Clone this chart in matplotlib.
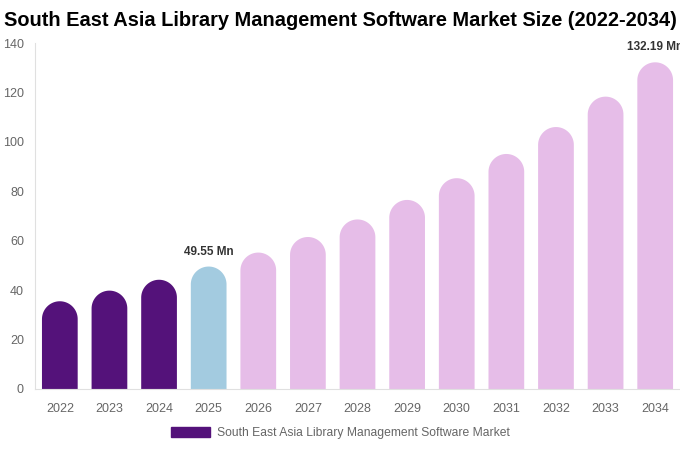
import numpy as np
import matplotlib.pyplot as plt
from matplotlib.patches import Polygon, Patch

plt.rcParams["font.family"] = ["Liberation Sans", "DejaVu Sans"]

# Market size data (USD Mn)
years = ["2022", "2023", "2024", "2025", "2026", "2027", "2028",
         "2029", "2030", "2031", "2032", "2033", "2034"]
values = [35.5, 39.8, 44.2, 49.55, 55.2, 61.5, 68.6,
          76.5, 85.3, 95.1, 106.0, 118.3, 132.19]
labelled = {3: "49.55 Mn", 12: "132.19 Mn"}

dark = "#54127A"
blue = "#A3CBE0"
pink = "#E6BDE8"
colors = [dark] * 3 + [blue] + [pink] * 9

fig = plt.figure(figsize=(6.8, 4.5), dpi=100)
ax = fig.add_axes([0.0515, 0.1356, 0.9485, 0.7688])

x = np.arange(len(years))
width = 0.72
ax.set_xlim(-0.5, len(years) - 0.5)
ax.set_ylim(0, 140)

# radius of the rounded cap in data units (half bar width in pixels)
fig.canvas.draw()
px_per_x = ax.transData.transform((1, 0))[0] - ax.transData.transform((0, 0))[0]
px_per_y = ax.transData.transform((0, 1))[1] - ax.transData.transform((0, 0))[1]
r_y = (width * px_per_x / 2) / px_per_y

theta = np.linspace(0, np.pi, 60)
for xi, v, c in zip(x, values, colors):
    top = v - r_y
    xs = np.concatenate([[xi + width / 2], xi + width / 2 * np.cos(theta), [xi - width / 2]])
    ys = np.concatenate([[0], top + r_y * np.sin(theta), [0]])
    ax.add_patch(Polygon(np.column_stack([xs, ys]), closed=True,
                         facecolor=c, edgecolor="none"))

for i, txt in labelled.items():
    ax.text(x[i], values[i] + 3.6, txt, ha="center", va="bottom",
            fontsize=8.5, fontweight="bold", color="#333333", clip_on=False)

ax.set_xticks(x)
ax.set_xticklabels(years)
ax.set_yticks(range(0, 141, 20))
ax.tick_params(axis="both", length=0, colors="#666666", labelsize=9)
ax.tick_params(axis="x", pad=10)
ax.tick_params(axis="y", pad=8)
for s in ["top", "right"]:
    ax.spines[s].set_visible(False)
ax.spines["left"].set_color("#E0E0E0")
ax.spines["bottom"].set_color("#E0E0E0")

fig.suptitle("South East Asia Library Management Software Market Size (2022-2034)",
             x=0.5, y=0.976, fontsize=14.4, fontweight="bold", color="black")

fig.legend(handles=[Patch(color=dark,
                          label="South East Asia Library Management Software Market")],
           loc="center", bbox_to_anchor=(0.5, 0.038), frameon=False,
           fontsize=8.7, labelcolor="#666666", handlelength=3.3,
           handleheight=0.9, handletextpad=0.5)

fig.savefig("out.png", dpi=100)
